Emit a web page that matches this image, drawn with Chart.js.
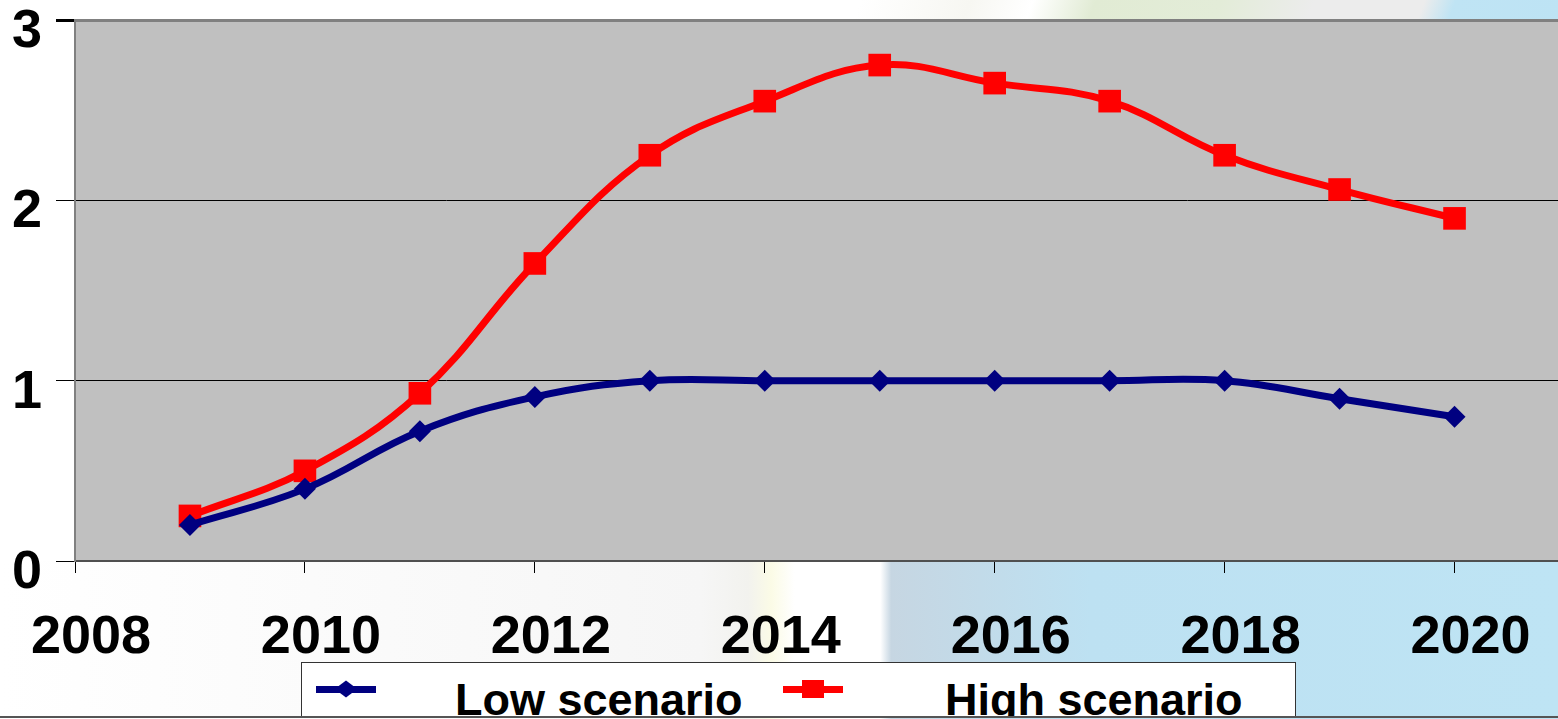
<!DOCTYPE html>
<html>
<head>
<meta charset="utf-8">
<script src="https://cdn.jsdelivr.net/npm/chart.js@4"></script>
<style>
  html, body { margin: 0; padding: 0; background: #fff; }
  #wrap { position: relative; width: 1558px; height: 719px; overflow: hidden; font-family: "Liberation Sans", Arial, sans-serif; }
  .bg-top { position: absolute; left: 0; top: 0; width: 1558px; height: 21px;
    background: linear-gradient(110deg, #fff 0%, #fff 55%, #f7f7f2 62%, #fff 66%, #e1ebd4 70%, #e3ecd8 78%, #ececec 84%, #ececec 91%, #bfe4f4 93%, #bde3f4 100%); }
  .bg-bottom { position: absolute; left: 0; top: 561px; width: 1558px; height: 158px;
    background: linear-gradient(90deg, #fff 0%, #f6f6f6 45%, #f2f2ee 48%, #fbfbe6 49.5%, #fff 51%, #fff 56.5%, #c6d6e2 57.2%, #bde1f2 70%, #bee4f4 100%); }
  #chart { position: absolute; left: 0; top: 0; }
  #legend { position: absolute; left: 301px; top: 662px; width: 993px; height: 53px;
    background: #fff; border: 1px solid #333; overflow: hidden; }
  .swatch { position: absolute; top: 23px; width: 60px; height: 7px; }
  .mark { position: absolute; }
  .txt { position: absolute; top: 14px; font-size: 45px; line-height: 45px; font-weight: bold; color: #000; white-space: nowrap; }
  .bottom-rule { position: absolute; left: 0; top: 716px; width: 1558px; height: 2px; background: #555; }
</style>
</head>
<body>
<div id="wrap">
  <div class="bg-top"></div>
  <div class="bg-bottom"></div>
  <canvas id="chart" width="1558" height="719"></canvas>
  <div id="legend"></div>
  <div class="bottom-rule"></div>
</div>
<script>
  const years = [2009, 2010, 2011, 2012, 2013, 2014, 2015, 2016, 2017, 2018, 2019, 2020];
  const lowScenario = [0.2, 0.4, 0.72, 0.91, 1.0, 1.0, 1.0, 1.0, 1.0, 1.0, 0.9, 0.8];
  const highScenario = [0.25, 0.5, 0.93, 1.65, 2.25, 2.55, 2.75, 2.65, 2.55, 2.25, 2.06, 1.9];
  const seriesNames = ["Low scenario", "High scenario"];
  const seriesColors = ["#000080", "#FF0000"];
  const xTicks = [2008, 2010, 2012, 2014, 2016, 2018, 2020];
  const yTicks = [0, 1, 2, 3];

  const FONT = "'Liberation Sans', Arial, sans-serif";

  function toPoints(values) {
    return years.map((x, i) => ({ x, y: values[i] }));
  }

  // серый фон области построения
  const plotBg = {
    id: "plotBg",
    beforeDraw(chart) {
      const { ctx, chartArea: a } = chart;
      ctx.save();
      ctx.fillStyle = "#C0C0C0";
      ctx.fillRect(a.left, a.top, a.right - a.left, a.bottom - a.top);
      ctx.restore();
    },
  };

  new Chart(document.getElementById("chart"), {
    type: "line",
    data: {
      datasets: [
        {
          label: seriesNames[0],
          data: toPoints(lowScenario),
          borderColor: seriesColors[0],
          backgroundColor: seriesColors[0],
          borderWidth: 7,
          tension: 0.4,
          pointStyle: "rectRot",
          pointRadius: 11,
          pointBorderWidth: 0,
          pointBackgroundColor: seriesColors[0],
        },
        {
          label: seriesNames[1],
          data: toPoints(highScenario),
          borderColor: seriesColors[1],
          backgroundColor: seriesColors[1],
          borderWidth: 7,
          tension: 0.4,
          pointStyle: "rect",
          pointRadius: 16,
          pointBorderWidth: 0,
          pointBackgroundColor: seriesColors[1],
        },
      ],
    },
    options: {
      responsive: false,
      animation: false,
      parsing: false,
      layout: { autoPadding: false, padding: { top: 20, left: 0, right: 0, bottom: 0 } },
      plugins: {
        legend: { display: false },
        tooltip: { enabled: false },
      },
      scales: {
        x: {
          type: "linear",
          min: 2008,
          max: 2020.9,
          afterBuildTicks: (s) => { s.ticks = xTicks.map((v) => ({ value: v })); },
          afterFit: (s) => { s.height = 158; s.paddingLeft = 0; s.paddingRight = 0; },
          ticks: {
            callback: (v) => String(v),
            font: { family: FONT, size: 54, weight: "bold" },
            color: "#000",
            padding: 33,
            labelOffset: 16,
            maxRotation: 0,
            autoSkip: false,
          },
          grid: { drawOnChartArea: false, tickLength: 12, tickColor: "#000", color: "#000" },
          border: { color: "#505050", width: 2 },
        },
        y: {
          min: 0,
          max: 3,
          afterBuildTicks: (s) => { s.ticks = yTicks.map((v) => ({ value: v })); },
          afterFit: (s) => { s.width = 75; s.paddingTop = 0; s.paddingBottom = 0; },
          ticks: {
            callback: (v) => String(v),
            font: { family: FONT, size: 54, weight: "bold" },
            color: "#000",
            padding: 14,
            labelOffset: 12,
          },
          grid: {
            tickLength: 19,
            tickColor: "#000",
            color: (c) => (c.tick && c.tick.value === 3 ? "#808080" : c.tick && c.tick.value === 0 ? "rgba(0,0,0,0)" : "#000"),
            lineWidth: (c) => (c.tick && c.tick.value === 3 ? 3 : 1),
          },
          border: { color: "#808080", width: 2 },
        },
      },
    },
    plugins: [plotBg],
  });

  // легенда (линия + маркер, как в оригинале)
  const legendEl = document.getElementById("legend");
  const legendPos = [
    { sw: 14, txt: 153 },
    { sw: 481, txt: 643 },
  ];
  seriesNames.forEach((name, i) => {
    const p = legendPos[i];
    const sw = document.createElement("div");
    sw.className = "swatch";
    sw.style.left = p.sw + "px";
    sw.style.background = seriesColors[i];
    legendEl.appendChild(sw);

    const mk = document.createElement("div");
    mk.className = "mark";
    mk.style.background = seriesColors[i];
    if (i === 0) {
      mk.style.left = p.sw + 22 + "px";
      mk.style.top = "18px";
      mk.style.width = "16px";
      mk.style.height = "16px";
      mk.style.transform = "scaleY(0.75) rotate(45deg)";
    } else {
      mk.style.left = p.sw + 19 + "px";
      mk.style.top = "17px";
      mk.style.width = "22px";
      mk.style.height = "18px";
    }
    legendEl.appendChild(mk);

    const t = document.createElement("div");
    t.className = "txt";
    t.style.left = p.txt + "px";
    t.textContent = name;
    legendEl.appendChild(t);
  });
</script>
</body>
</html>
